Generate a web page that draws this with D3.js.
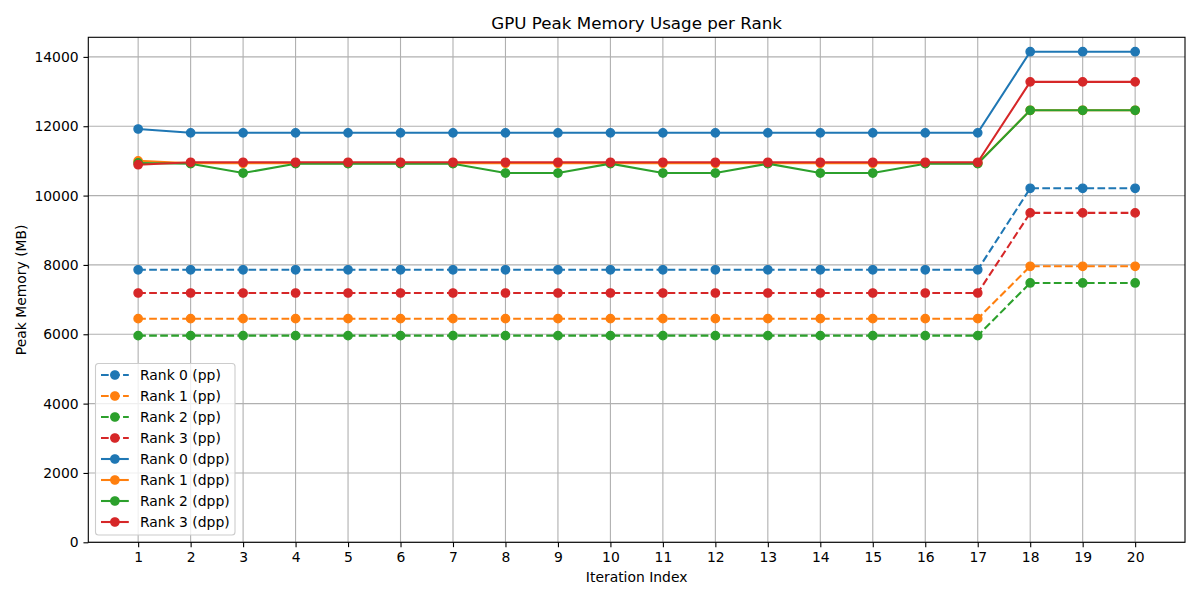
<!DOCTYPE html>
<html>
<head>
<meta charset="utf-8">
<script src="https://cdn.jsdelivr.net/npm/d3@7"></script>
<style>
  body { margin: 0; background: #fff; }
  svg { display: block; font-family: "DejaVu Sans", sans-serif; }
</style>
</head>
<body>
<div id="chart"></div>
<script>
const iterations = [1,2,3,4,5,6,7,8,9,10,11,12,13,14,15,16,17,18,19,20];
const seriesNames = ["Rank 0 (pp)","Rank 1 (pp)","Rank 2 (pp)","Rank 3 (pp)","Rank 0 (dpp)","Rank 1 (dpp)","Rank 2 (dpp)","Rank 3 (dpp)"];
const rank0pp  = [7860,7860,7860,7860,7860,7860,7860,7860,7860,7860,7860,7860,7860,7860,7860,7860,7860,10210,10210,10210];
const rank1pp  = [6450,6450,6450,6450,6450,6450,6450,6450,6450,6450,6450,6450,6450,6450,6450,6450,6450,7960,7960,7960];
const rank2pp  = [5960,5960,5960,5960,5960,5960,5960,5960,5960,5960,5960,5960,5960,5960,5960,5960,5960,7480,7480,7480];
const rank3pp  = [7190,7190,7190,7190,7190,7190,7190,7190,7190,7190,7190,7190,7190,7190,7190,7190,7190,9500,9500,9500];
const rank0dpp = [11920,11810,11810,11810,11810,11810,11810,11810,11810,11810,11810,11810,11810,11810,11810,11810,11810,14150,14150,14150];
const rank1dpp = [11000,10930,10930,10930,10930,10930,10930,10930,10930,10930,10930,10930,10930,10930,10930,10930,10930,12460,12460,12460];
const rank2dpp = [10940,10920,10650,10920,10920,10920,10920,10650,10650,10920,10650,10650,10920,10650,10650,10920,10920,12460,12460,12460];
const rank3dpp = [10890,10960,10960,10960,10960,10960,10960,10960,10960,10960,10960,10960,10960,10960,10960,10960,10960,13280,13280,13280];
const yTicks = [0,2000,4000,6000,8000,10000,12000,14000];
const colors = ["#1f77b4","#ff7f0e","#2ca02c","#d62728"];

const seriesValues = [rank0pp, rank1pp, rank2pp, rank3pp, rank0dpp, rank1dpp, rank2dpp, rank3dpp];
const series = seriesNames.map((name, i) => ({
  name, values: seriesValues[i], color: colors[i % 4], dashed: i < 4
}));

const W = 1200, H = 600;
const L = 88.3, R = 1185, T = 37.3, B = 542.3;

const svg = d3.select("#chart").append("svg").attr("width", W).attr("height", H);

const x = d3.scaleLinear().domain([0.05, 20.95]).range([L, R]);
const y = d3.scaleLinear().domain([0, 14565]).range([B, T]);

// grid
const grid = svg.append("g");
grid.selectAll(".gx").data(iterations).join("line")
  .attr("x1", d => x(d)).attr("x2", d => x(d)).attr("y1", T).attr("y2", B)
  .attr("stroke", "#b0b0b0").attr("stroke-width", 1.1);
grid.selectAll(".gy").data(yTicks).join("line")
  .attr("x1", L).attr("x2", R).attr("y1", d => y(d)).attr("y2", d => y(d))
  .attr("stroke", "#b0b0b0").attr("stroke-width", 1.1);

// lines
const line = d3.line().x((d, i) => x(iterations[i])).y(d => y(d));
const plot = svg.append("g");
series.forEach(s => {
  const g = plot.append("g");
  g.append("path").datum(s.values).attr("d", line)
    .attr("fill", "none").attr("stroke", s.color).attr("stroke-width", 2.08)
    .attr("stroke-dasharray", s.dashed ? "7.7,3.33" : null);
  g.selectAll("circle").data(s.values).join("circle")
    .attr("cx", (d, i) => x(iterations[i])).attr("cy", d => y(d)).attr("r", 4.17)
    .attr("fill", s.color).attr("stroke", s.color).attr("stroke-width", 1.39);
});

// axes
const xAxis = d3.axisBottom(x).tickValues(iterations).tickFormat(d3.format("d")).tickSizeOuter(0).tickSize(4.86).tickPadding(4.86);
const yAxis = d3.axisLeft(y).tickValues(yTicks).tickFormat(d3.format("d")).tickSizeOuter(0).tickSize(4.86).tickPadding(4.86);
const gx = svg.append("g").attr("transform", `translate(0,${B})`).call(xAxis);
const gy = svg.append("g").attr("transform", `translate(${L},0)`).call(yAxis);
[gx, gy].forEach(g => {
  g.select(".domain").remove();
  g.selectAll("line").attr("stroke", "#000").attr("stroke-width", 1.1);
  g.selectAll("text").attr("font-size", "13.9px").attr("fill", "#000").attr("font-family", "DejaVu Sans");
});

// frame
svg.append("rect").attr("x", L).attr("y", T).attr("width", R - L).attr("height", B - T)
  .attr("fill", "none").attr("stroke", "#000").attr("stroke-width", 1.1);

// title and labels
svg.append("text").attr("x", (L + R) / 2).attr("y", 29).attr("text-anchor", "middle")
  .attr("font-size", "16.7px").text("GPU Peak Memory Usage per Rank");
svg.append("text").attr("x", (L + R) / 2).attr("y", 582).attr("text-anchor", "middle")
  .attr("font-size", "13.9px").text("Iteration Index");
svg.append("text").attr("transform", `translate(26,${(T + B) / 2}) rotate(-90)`).attr("text-anchor", "middle")
  .attr("font-size", "13.9px").text("Peak Memory (MB)");

// legend
const lg = svg.append("g").attr("transform", "translate(95.5,363.5)");
lg.append("rect").attr("width", 139.5).attr("height", 171.5).attr("rx", 3)
  .attr("fill", "#fff").attr("fill-opacity", 0.8).attr("stroke", "#cccccc").attr("stroke-width", 1.1);
series.forEach((s, i) => {
  const cy = 11.5 + i * 21;
  const row = lg.append("g").attr("transform", `translate(0,${cy})`);
  row.append("line").attr("x1", 5.5).attr("x2", 33.3).attr("y1", 0).attr("y2", 0)
    .attr("stroke", s.color).attr("stroke-width", 2.08)
    .attr("stroke-dasharray", s.dashed ? "7.7,3.33" : null);
  row.append("circle").attr("cx", 19.4).attr("cy", 0).attr("r", 4.17)
    .attr("fill", s.color).attr("stroke", s.color).attr("stroke-width", 1.39);
  row.append("text").attr("x", 44.5).attr("y", 5).attr("font-size", "13.9px").text(s.name);
});
</script>
</body>
</html>
